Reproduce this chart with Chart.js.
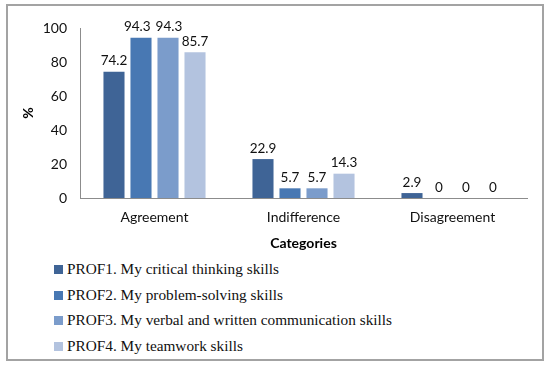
<!DOCTYPE html>
<html lang="en">
<head>
    <meta charset="UTF-8">
    <title>Categories chart</title>
    <style>
        body {
            margin: 0;
            width: 550px;
            height: 367px;
            background-color: #fff;
            position: relative;
            overflow: hidden;
        }
        .frame {
            position: absolute;
            left: 6px;
            top: 4px;
            width: 538px;
            height: 357px;
            box-sizing: border-box;
            border: 2px solid #a3a3a3;
        }
        .chart-box {
            position: absolute;
            left: 0;
            top: 0;
            width: 550px;
            height: 256px;
        }
        #legend {
            position: absolute;
            left: 54px;
            top: 256px;
            font-family: "Liberation Serif", serif;
            font-size: 15.3px;
            color: #111;
        }
        .legend-item {
            height: 25.5px;
            line-height: 25.5px;
            white-space: nowrap;
        }
        .legend-item span {
            display: inline-block;
            width: 9px;
            height: 9px;
            margin-right: 4px;
        }
    </style>
</head>
<body>
    <div class="frame"></div>
    <div class="chart-box">
        <canvas id="profChart"></canvas>
    </div>
    <div id="legend"></div>

    <script src="https://cdn.jsdelivr.net/npm/chart.js"></script>

    <script>
        const categories = ['Agreement', 'Indifference', 'Disagreement'];
        const seriesNames = [
            'PROF1. My critical thinking skills',
            'PROF2. My problem-solving skills',
            'PROF3. My verbal and written communication skills',
            'PROF4. My teamwork skills'
        ];
        const prof1 = [74.2, 22.9, 2.9];
        const prof2 = [94.3, 5.7, 0];
        const prof3 = [94.3, 5.7, 0];
        const prof4 = [85.7, 14.3, 0];
        const yTicks = [0, 20, 40, 60, 80, 100];

        const colors = ['#3f6496', '#4878b3', '#7b9ccb', '#b3c3df'];
        const values = [prof1, prof2, prof3, prof4];

        // values on top of each bar, nudged apart when two collide
        const valueLabels = {
            id: 'valueLabels',
            afterDatasetsDraw(chart) {
                const ctx = chart.ctx;
                ctx.save();
                ctx.font = '13.5px Lato';
                ctx.fillStyle = '#111';
                ctx.textAlign = 'center';
                ctx.textBaseline = 'bottom';
                const n = chart.data.datasets.length;
                chart.data.labels.forEach((cat, j) => {
                    const items = [];
                    for (let i = 0; i < n; i++) {
                        const bar = chart.getDatasetMeta(i).data[j];
                        const text = String(chart.data.datasets[i].data[j]);
                        items.push({ text, x: bar.x, y: bar.y - 4, w: ctx.measureText(text).width });
                    }
                    for (let i = n - 2; i >= 0; i--) {
                        const a = items[i], b = items[i + 1];
                        const overlap = (a.x + a.w / 2 + 5) - (b.x - b.w / 2);
                        if (overlap > 0 && Math.abs(a.y - b.y) < 6) {
                            a.x -= overlap * 0.8;
                            b.x += overlap * 0.2;
                        }
                    }
                    items.forEach(it => ctx.fillText(it.text, it.x, it.y));
                });
                ctx.restore();
            }
        };

        window.onload = function() {
            const ctx = document.getElementById('profChart').getContext('2d');
            const chart = new Chart(ctx, {
                type: 'bar',
                data: {
                    labels: categories,
                    datasets: seriesNames.map((name, i) => ({
                        label: name,
                        data: values[i],
                        backgroundColor: colors[i],
                        categoryPercentage: 0.725,
                        barPercentage: 0.78
                    }))
                },
                options: {
                    responsive: true,
                    maintainAspectRatio: false,
                    animation: false,
                    layout: {
                        padding: { left: 14, right: 23, top: 28, bottom: 0 }
                    },
                    plugins: {
                        legend: { display: false },
                        tooltip: { enabled: false }
                    },
                    scales: {
                        x: {
                            afterFit: scale => { scale.height = 58; },
                            grid: { display: false, drawTicks: false },
                            border: { display: true, color: '#8c8c8c', width: 1 },
                            ticks: {
                                padding: 11,
                                color: '#111',
                                font: { family: 'Lato', size: 14 }
                            },
                            title: {
                                display: true,
                                text: 'Categories',
                                color: '#000',
                                font: { family: 'Lato', size: 14, weight: 'bold' },
                                padding: { top: 0, bottom: 4 }
                            }
                        },
                        y: {
                            min: 0,
                            max: 100,
                            afterBuildTicks: scale => {
                                scale.ticks = yTicks.map(v => ({ value: v }));
                            },
                            afterFit: scale => { scale.width = 66; },
                            grid: { display: false, drawTicks: false },
                            border: { display: true, color: '#8c8c8c', width: 1 },
                            ticks: {
                                padding: 13,
                                color: '#111',
                                font: { family: 'Lato', size: 14 }
                            },
                            title: {
                                display: true,
                                text: '%',
                                color: '#000',
                                font: { family: 'Lato', size: 14, weight: 'bold' },
                                padding: { top: 6, bottom: 0 }
                            }
                        }
                    }
                },
                plugins: [valueLabels]
            });

            const legend = document.getElementById('legend');
            chart.data.datasets.forEach(ds => {
                const row = document.createElement('div');
                row.className = 'legend-item';
                const box = document.createElement('span');
                box.style.backgroundColor = ds.backgroundColor;
                row.appendChild(box);
                row.appendChild(document.createTextNode(ds.label));
                legend.appendChild(row);
            });
        };
    </script>
</body>
</html>
